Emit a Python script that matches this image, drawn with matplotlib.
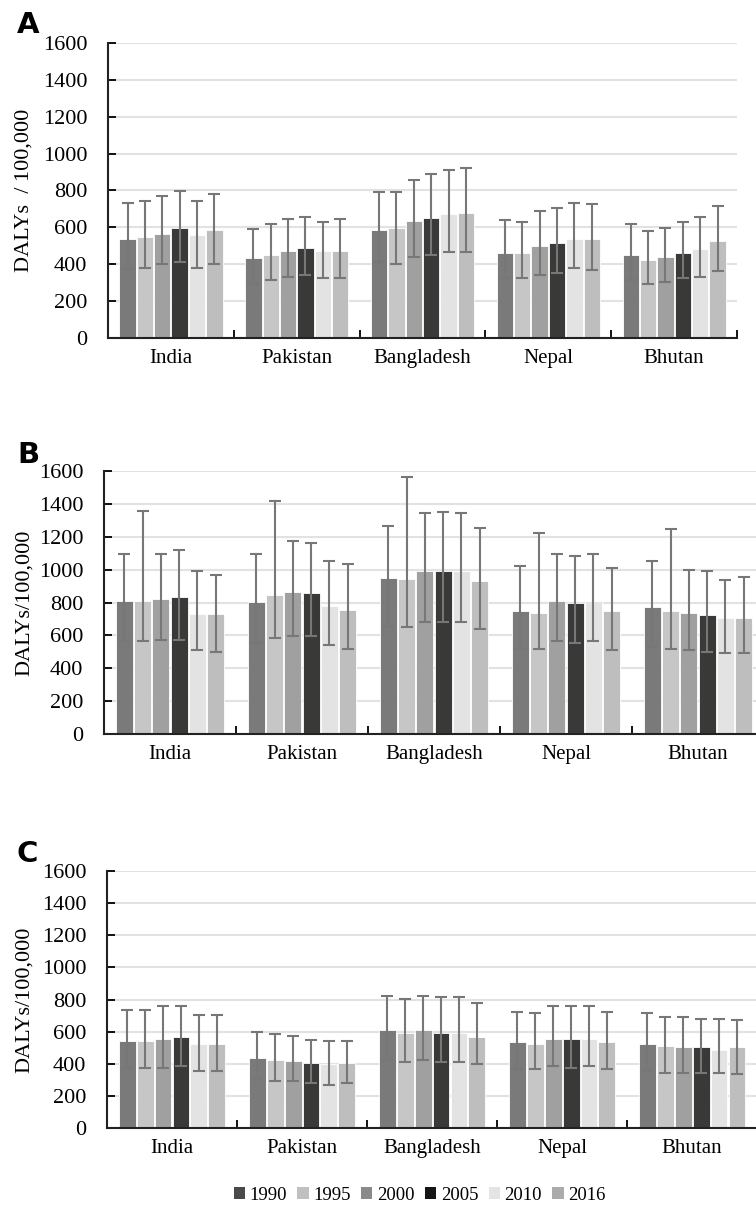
import numpy as np
import matplotlib
matplotlib.use("Agg")
import matplotlib.pyplot as plt
from matplotlib.patches import Patch

plt.rcParams['font.family'] = ['Liberation Serif', 'DejaVu Serif']

countries = ['India', 'Pakistan', 'Bangladesh', 'Nepal', 'Bhutan']
years = ['1990', '1995', '2000', '2005', '2010', '2016']
bar_colors = ['#7a7a7a', '#c5c6c5', '#a0a0a0', '#393937', '#e2e3e2', '#bdbebd']
legend_colors = ['#4a4a4a', '#c0c0c0', '#8a8a8a', '#151515', '#e4e4e4', '#ababab']

# panel A: rows = countries, cols = years
a_val = [[537, 546, 566, 595, 557, 586],
         [432, 450, 470, 488, 470, 470],
         [584, 595, 633, 651, 671, 680],
         [461, 461, 499, 517, 537, 537],
         [452, 423, 441, 461, 481, 528]]
a_hi = [[734, 741, 770, 799, 741, 781],
        [589, 618, 645, 654, 629, 645],
        [790, 790, 855, 888, 913, 924],
        [638, 629, 687, 705, 734, 725],
        [618, 580, 598, 629, 656, 714]]
a_lo = [[372, 381, 400, 410, 381, 400],
        [295, 313, 333, 342, 324, 324],
        [412, 400, 437, 448, 466, 466],
        [324, 324, 342, 353, 381, 371],
        [313, 295, 304, 324, 333, 362]]

# panel B
b_val = [[812, 812, 822, 834, 729, 729],
         [802, 845, 865, 855, 780, 757],
         [952, 942, 994, 994, 994, 930],
         [747, 737, 812, 800, 812, 747],
         [770, 747, 737, 727, 705, 705]]
b_hi = [[1096, 1355, 1096, 1120, 990, 968],
        [1096, 1416, 1173, 1160, 1055, 1033],
        [1266, 1566, 1343, 1353, 1343, 1256],
        [1021, 1223, 1096, 1086, 1096, 1011],
        [1053, 1246, 1000, 990, 936, 958]]
b_lo = [[563, 563, 573, 573, 510, 500],
        [553, 585, 595, 595, 543, 520],
        [660, 648, 681, 681, 681, 638],
        [520, 520, 563, 553, 563, 510],
        [531, 520, 510, 500, 490, 490]]

# panel C
c_val = [[545, 545, 555, 566, 522, 522],
         [435, 425, 415, 402, 396, 402],
         [609, 589, 609, 589, 589, 566],
         [533, 522, 555, 555, 555, 533],
         [522, 512, 502, 502, 489, 502]]
c_hi = [[736, 736, 759, 759, 705, 705],
        [597, 584, 574, 551, 541, 541],
        [825, 802, 825, 815, 815, 779],
        [723, 715, 759, 759, 759, 723],
        [715, 692, 692, 680, 680, 671]]
c_lo = [[375, 375, 375, 388, 354, 354],
        [305, 290, 290, 280, 267, 280],
        [423, 410, 423, 410, 410, 398],
        [367, 367, 388, 375, 388, 367],
        [356, 344, 344, 344, 344, 334]]

panels = [
    ('A', 'DALYs  / 100,000', a_val, a_hi, a_lo, [0.1429, 0.7216, 0.832, 0.243], -0.118, 17, 33),
    ('B', 'DALYs/100,000', b_val, b_hi, b_lo, [0.1376, 0.3954, 0.873, 0.2166], -0.106, 17, 463),
    ('C', 'DALYs/100,000', c_val, c_hi, c_lo, [0.1415, 0.0708, 0.860, 0.2117], -0.112, 17, 862),
]

fig = plt.figure(figsize=(7.56, 12.14), dpi=100)
x = np.arange(len(countries))
step = 0.138
width = 0.13

for letter, ylabel, val, hi, lo, pos, lab_x, lx, ly in panels:
    ax = fig.add_axes(pos)
    val = np.array(val)
    hi = np.array(hi)
    lo = np.array(lo)
    for j, yr in enumerate(years):
        off = (j - 2.5) * step
        ax.bar(x + off, val[:, j], width, color=bar_colors[j], edgecolor='white',
               linewidth=0.6, zorder=2)
        ax.errorbar(x + off, val[:, j], yerr=[val[:, j] - lo[:, j], hi[:, j] - val[:, j]],
                    fmt='none', ecolor='#777777', elinewidth=1.5, capsize=4,
                    capthick=1.5, zorder=3)
    ax.set_xlim(-0.5, len(countries) - 0.5)
    ax.set_ylim(0, 1600)
    ax.set_yticks(range(0, 1601, 200))
    ax.set_xticks(x)
    ax.set_xticklabels(countries, fontsize=15)
    ax.set_xticks(np.arange(-0.5, len(countries)), minor=True)
    ax.tick_params(axis='x', which='major', length=0, pad=8)
    ax.tick_params(axis='x', which='minor', direction='in', length=6, width=1.3)
    ax.tick_params(axis='y', direction='in', length=6, width=1.3, labelsize=16, pad=15)
    ax.yaxis.grid(True, color='#e2e2e2', linewidth=1.5, zorder=0)
    ax.set_axisbelow(True)
    for s in ['top', 'right']:
        ax.spines[s].set_visible(False)
    for s in ['left', 'bottom']:
        ax.spines[s].set_linewidth(1.5)
        ax.spines[s].set_color('#222222')
    ax.set_ylabel(ylabel, fontsize=16)
    ax.yaxis.set_label_coords(lab_x, 0.5)
    fig.text(lx / 756, 1 - ly / 1214, letter, fontsize=21, fontweight='bold',
             family='DejaVu Sans', va='baseline', ha='left')

handles = [Patch(facecolor=c, edgecolor='none') for c in legend_colors]
fig.legend(handles, years, loc='center', bbox_to_anchor=(0.555, 1 - 1195 / 1214),
           ncol=6, frameon=False, fontsize=13.5, handlelength=0.6, handleheight=0.6,
           handletextpad=0.25, columnspacing=0.55)

fig.savefig('out.png', dpi=100)
